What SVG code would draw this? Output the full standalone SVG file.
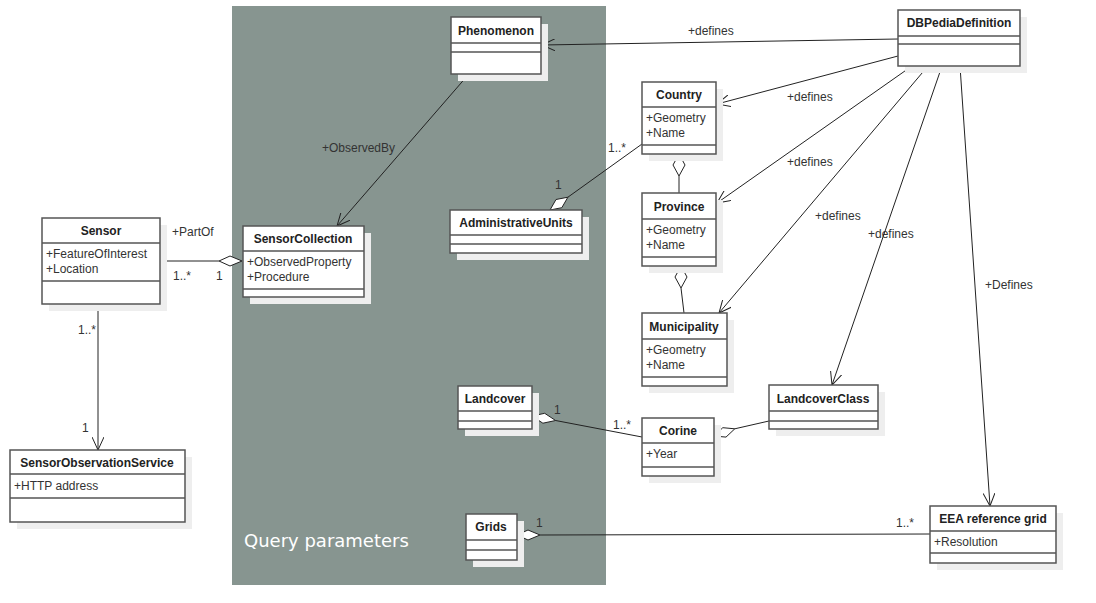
<svg xmlns="http://www.w3.org/2000/svg" width="1096" height="603" viewBox="0 0 1096 603">
<defs>
<style>
.box{fill:#fff;stroke:#555;stroke-width:1.5}
.sh{fill:#eeeeee}
.dv{stroke:#555;stroke-width:1.5}
.h{font-family:"Liberation Sans",Arial,sans-serif;font-size:12px;font-weight:bold;fill:#222;text-anchor:middle}
.a{font-family:"Liberation Sans",Arial,sans-serif;font-size:12px;fill:#333}
.l{font-family:"Liberation Sans",Arial,sans-serif;font-size:12px;fill:#333}
.c{stroke:#222;stroke-width:1;fill:none}
.dm{fill:#fff;stroke:#222;stroke-width:1}
</style>
<marker id="arr" viewBox="0 0 14 12" refX="13" refY="6" markerWidth="14" markerHeight="12" markerUnits="userSpaceOnUse" orient="auto">
<path d="M0,0 L13,6 L0,12" fill="none" stroke="#222" stroke-width="1"/>
</marker>
</defs>
<rect width="1096" height="603" fill="#fff"/>
<rect x="232" y="6" width="374" height="579" fill="#879590"/>
<text x="244" y="547" font-family="DejaVu Sans,sans-serif" font-size="18" fill="#fff">Query parameters</text>

<g id="connectors">
<line class="c" x1="898" y1="39" x2="542" y2="45" marker-end="url(#arr)"/>
<text class="l" x="688" y="35">+defines</text>
<line class="c" x1="898" y1="56" x2="717" y2="104" marker-end="url(#arr)"/>
<text class="l" x="787" y="101">+defines</text>
<line class="c" x1="912" y1="66" x2="717" y2="203" marker-end="url(#arr)"/>
<text class="l" x="787" y="166">+defines</text>
<line class="c" x1="928" y1="66" x2="719" y2="313" marker-end="url(#arr)"/>
<text class="l" x="815" y="220">+defines</text>
<line class="c" x1="942" y1="66" x2="832" y2="385" marker-end="url(#arr)"/>
<text class="l" x="868" y="238">+defines</text>
<line class="c" x1="960" y1="66" x2="990" y2="506" marker-end="url(#arr)"/>
<text class="l" x="985" y="289">+Defines</text>
<line class="c" x1="468" y1="75" x2="337" y2="226" marker-end="url(#arr)"/>
<text class="l" x="322" y="152">+ObservedBy</text>
<line class="c" x1="160" y1="261" x2="219" y2="261"/>
<path class="dm" d="M219,261 L230,256 L242,261 L230,266 Z"/>
<text class="l" x="172" y="236">+PartOf</text>
<text class="l" x="173" y="280">1..*</text>
<text class="l" x="216" y="280">1</text>
<line class="c" x1="98" y1="304" x2="98" y2="450" marker-end="url(#arr)"/>
<text class="l" x="78" y="334">1..*</text>
<text class="l" x="82" y="432">1</text>
<line class="c" x1="642" y1="144" x2="567.9" y2="197.2"/>
<path class="dm" d="M550,210 L561.8,207.7 L567.9,197.2 L556,199.5 Z"/>
<text class="l" x="555" y="189">1</text>
<text class="l" x="608" y="152">1..*</text>
<path class="dm" d="M679,154 L685,165 L679,176 L673,165 Z"/>
<line class="c" x1="679" y1="176" x2="679" y2="193"/>
<path class="dm" d="M681,266 L687,277 L681,288 L675,277 Z"/>
<line class="c" x1="681" y1="288" x2="684" y2="313"/>
<path class="dm" d="M532,416 L542.9,423.2 L555.6,420.5 L544.7,413.3 Z"/>
<line class="c" x1="555.6" y1="420.5" x2="642" y2="437"/>
<text class="l" x="554" y="414">1</text>
<text class="l" x="613" y="429">1..*</text>
<path class="dm" d="M714,436 L726,437.1 L734.8,428.8 L722.8,427.7 Z"/>
<line class="c" x1="734.8" y1="428.8" x2="769" y2="421"/>
<path class="dm" d="M517,535 L528,530 L540,535 L528,540 Z"/>
<line class="c" x1="540" y1="535" x2="930" y2="534"/>
<text class="l" x="536" y="527">1</text>
<text class="l" x="896" y="527">1..*</text>
</g>

<g id="Phenomenon">
<rect class="sh" x="458" y="24" width="90" height="57"/>
<rect class="box" x="451" y="17" width="90" height="57"/>
<line class="dv" x1="451" y1="43" x2="541" y2="43"/><line class="dv" x1="451" y1="52" x2="541" y2="52"/>
<text class="h" x="496" y="35">Phenomenon</text>
</g>
<g id="DBPediaDefinition">
<rect class="sh" x="905" y="17" width="122" height="56"/>
<rect class="box" x="898" y="10" width="122" height="56"/>
<line class="dv" x1="898" y1="36" x2="1020" y2="36"/><line class="dv" x1="898" y1="44" x2="1020" y2="44"/>
<text class="h" x="959" y="27">DBPediaDefinition</text>
</g>
<g id="Country">
<rect class="sh" x="649" y="89" width="74" height="72"/>
<rect class="box" x="642" y="82" width="74" height="72"/>
<line class="dv" x1="642" y1="107" x2="716" y2="107"/><line class="dv" x1="642" y1="145" x2="716" y2="145"/>
<text class="h" x="679" y="99">Country</text>
<text class="a" x="646" y="122">+Geometry</text>
<text class="a" x="646" y="137">+Name</text>
</g>
<g id="Province">
<rect class="sh" x="649" y="200" width="74" height="73"/>
<rect class="box" x="642" y="193" width="74" height="73"/>
<line class="dv" x1="642" y1="219" x2="716" y2="219"/><line class="dv" x1="642" y1="257" x2="716" y2="257"/>
<text class="h" x="679" y="211">Province</text>
<text class="a" x="646" y="234">+Geometry</text>
<text class="a" x="646" y="249">+Name</text>
</g>
<g id="Municipality">
<rect class="sh" x="649" y="320" width="85" height="73"/>
<rect class="box" x="642" y="313" width="85" height="73"/>
<line class="dv" x1="642" y1="339" x2="727" y2="339"/><line class="dv" x1="642" y1="377" x2="727" y2="377"/>
<text class="h" x="684" y="331">Municipality</text>
<text class="a" x="646" y="354">+Geometry</text>
<text class="a" x="646" y="369">+Name</text>
</g>
<g id="Sensor">
<rect class="sh" x="49" y="225" width="118" height="86"/>
<rect class="box" x="42" y="218" width="118" height="86"/>
<line class="dv" x1="42" y1="243" x2="160" y2="243"/><line class="dv" x1="42" y1="281" x2="160" y2="281"/>
<text class="h" x="101" y="235">Sensor</text>
<text class="a" x="46" y="258">+FeatureOfInterest</text>
<text class="a" x="46" y="273">+Location</text>
</g>
<g id="SensorCollection">
<rect class="sh" x="250" y="233" width="121" height="71"/>
<rect class="box" x="243" y="226" width="121" height="71"/>
<line class="dv" x1="243" y1="251" x2="364" y2="251"/><line class="dv" x1="243" y1="289" x2="364" y2="289"/>
<text class="h" x="303" y="243">SensorCollection</text>
<text class="a" x="247" y="266">+ObservedProperty</text>
<text class="a" x="247" y="281">+Procedure</text>
</g>
<g id="SensorObservationService">
<rect class="sh" x="17" y="457" width="175" height="72"/>
<rect class="box" x="10" y="450" width="175" height="72"/>
<line class="dv" x1="10" y1="474" x2="185" y2="474"/><line class="dv" x1="10" y1="498" x2="185" y2="498"/>
<text class="h" x="97" y="467">SensorObservationService</text>
<text class="a" x="14" y="490">+HTTP address</text>
</g>
<g id="AdministrativeUnits">
<rect class="sh" x="457" y="217" width="132" height="43"/>
<rect class="box" x="450" y="210" width="132" height="43"/>
<line class="dv" x1="450" y1="235" x2="582" y2="235"/><line class="dv" x1="450" y1="244" x2="582" y2="244"/>
<text class="h" x="516" y="227">AdministrativeUnits</text>
</g>
<g id="Landcover">
<rect class="sh" x="465" y="393" width="74" height="43"/>
<rect class="box" x="458" y="386" width="74" height="43"/>
<line class="dv" x1="458" y1="411" x2="532" y2="411"/><line class="dv" x1="458" y1="421" x2="532" y2="421"/>
<text class="h" x="495" y="403">Landcover</text>
</g>
<g id="Corine">
<rect class="sh" x="649" y="425" width="72" height="58"/>
<rect class="box" x="642" y="418" width="72" height="58"/>
<line class="dv" x1="642" y1="443" x2="714" y2="443"/><line class="dv" x1="642" y1="467" x2="714" y2="467"/>
<text class="h" x="678" y="435">Corine</text>
<text class="a" x="646" y="458">+Year</text>
</g>
<g id="LandcoverClass">
<rect class="sh" x="776" y="392" width="109" height="44"/>
<rect class="box" x="769" y="385" width="109" height="44"/>
<line class="dv" x1="769" y1="411" x2="878" y2="411"/><line class="dv" x1="769" y1="421" x2="878" y2="421"/>
<text class="h" x="823" y="403">LandcoverClass</text>
</g>
<g id="Grids">
<rect class="sh" x="473" y="521" width="51" height="46"/>
<rect class="box" x="466" y="514" width="51" height="46"/>
<line class="dv" x1="466" y1="540" x2="517" y2="540"/><line class="dv" x1="466" y1="550" x2="517" y2="550"/>
<text class="h" x="491" y="531">Grids</text>
</g>
<g id="EEAReferenceGrid">
<rect class="sh" x="937" y="513" width="126" height="57"/>
<rect class="box" x="930" y="506" width="126" height="57"/>
<line class="dv" x1="930" y1="531" x2="1056" y2="531"/><line class="dv" x1="930" y1="553" x2="1056" y2="553"/>
<text class="h" x="993" y="523">EEA reference grid</text>
<text class="a" x="934" y="546">+Resolution</text>
</g>
</svg>
